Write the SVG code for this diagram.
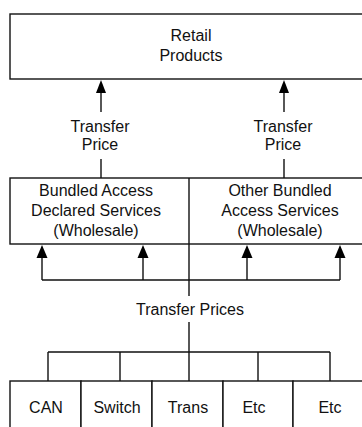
<svg xmlns="http://www.w3.org/2000/svg" width="362" height="427" viewBox="0 0 362 427">
<style>
.box{fill:#fff;stroke:#111;stroke-width:1.4}
.ln{stroke:#111;stroke-width:1.4;fill:none}
.ah{fill:#000}
text{font-family:"Liberation Sans",Arial,sans-serif;font-size:16px;fill:#111;text-anchor:middle}
</style>
<rect width="362" height="427" fill="#fff"/>
<g id="retail">
<rect class="box" x="10" y="14" width="400" height="65"/>
<text x="191" y="41">Retail</text>
<text x="191" y="61">Products</text>
</g>
<g id="wholesale">
<rect class="box" x="10" y="178" width="400" height="66"/>
<g id="declared">
<text x="96" y="196">Bundled Access</text>
<text x="96" y="216">Declared Services</text>
<text x="96" y="236">(Wholesale)</text>
</g>
<g id="other">
<text x="280" y="196">Other Bundled</text>
<text x="280" y="216">Access Services</text>
<text x="280" y="236">(Wholesale)</text>
</g>
</g>
<g id="components">
<g id="can"><rect class="box" x="10" y="381" width="71" height="60"/><text x="46" y="413">CAN</text></g>
<g id="switch"><rect class="box" x="81" y="381" width="71" height="60"/><text x="117" y="413">Switch</text></g>
<g id="trans"><rect class="box" x="152" y="381" width="71" height="60"/><text x="188" y="413">Trans</text></g>
<g id="etc1"><rect class="box" x="223" y="381" width="70" height="60"/><text x="254" y="413">Etc</text></g>
<g id="etc2"><rect class="box" x="293" y="381" width="100" height="60"/><text x="330" y="413">Etc</text></g>
</g>
<g id="connectors">
<path class="ln" d="M101,159V178M101,93V112M284,159V178M284,93V112"/>
<polygon class="ah" points="101,80 96,93 106,93"/>
<polygon class="ah" points="284,80 279,93 289,93"/>
<text x="100" y="131.5">Transfer</text>
<text x="100" y="149.5">Price</text>
<text x="283" y="131.5">Transfer</text>
<text x="283" y="149.5">Price</text>
<path class="ln" d="M189,178V296M42,280H340M42,258V280M143,258V280M247,258V280M340,258V280"/>
<polygon class="ah" points="42,245 36.5,258 47.5,258"/>
<polygon class="ah" points="143,245 137.5,258 148.5,258"/>
<polygon class="ah" points="247,245 241.5,258 252.5,258"/>
<polygon class="ah" points="340,245 334.5,258 345.5,258"/>
<text x="190" y="315">Transfer Prices</text>
<path class="ln" d="M189,322V352M48,352H330M48,352V381M120,352V381M189,352V381M258,352V381M330,352V381"/>
</g>
</svg>
